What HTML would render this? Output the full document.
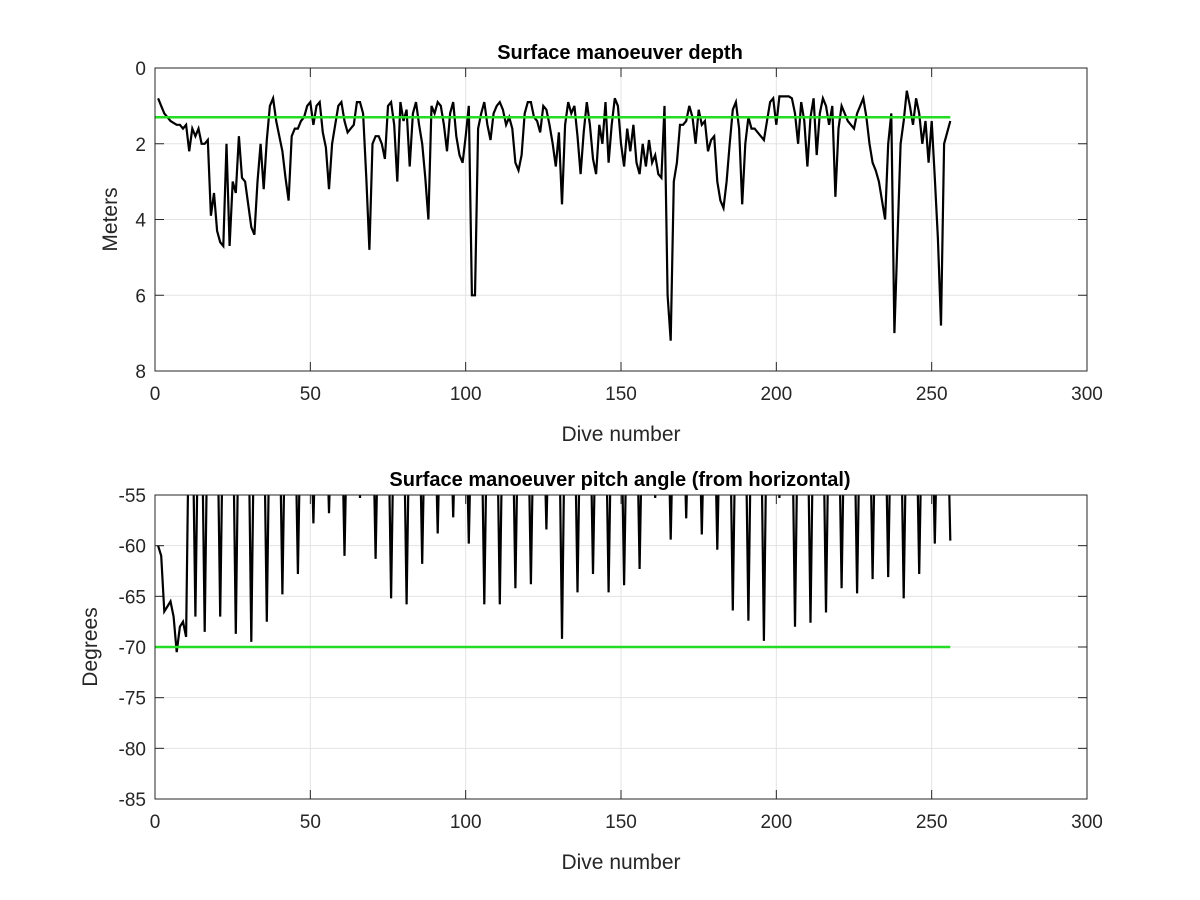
<!DOCTYPE html>
<html><head><meta charset="utf-8"><style>
body{margin:0;background:#fff;}
svg{display:block;font-family:"Liberation Sans",Arial,sans-serif;}
</style></head><body>
<svg id="fig" width="1200" height="900" viewBox="0 0 1200 900">
<rect width="1200" height="900" fill="#fff"/>
<g id="top"></g>
<g id="bot"></g>
</svg>
<script>
const depthVals=[0.8,1.0,1.2,1.3,1.4,1.45,1.5,1.5,1.6,1.5,
2.2,1.6,1.8,1.6,2.0,2.0,1.9,3.9,3.3,4.3,
4.6,4.7,2.0,4.7,3.0,3.3,1.8,2.9,3.0,3.6,
4.2,4.4,3.0,2.0,3.2,1.9,1.0,0.8,1.4,1.8,
2.2,2.9,3.5,1.8,1.6,1.6,1.4,1.3,1.0,0.9,
1.5,1.0,0.9,1.7,2.1,3.2,2.0,1.5,1.0,0.9,
1.4,1.7,1.6,1.5,0.9,0.9,1.2,2.9,4.8,2.0,
1.8,1.8,2.0,2.4,1.0,0.9,1.5,3.0,0.9,1.4,
1.1,2.6,1.2,0.9,1.5,2.0,2.9,4.0,1.0,1.2,
0.9,1.0,1.5,2.2,1.2,0.9,1.8,2.3,2.5,1.8,
1.0,6.0,6.0,1.6,1.2,0.9,1.5,1.9,1.2,1.0,
0.9,1.1,1.5,1.3,1.6,2.5,2.7,2.3,1.2,0.9,
0.9,1.3,1.4,1.7,1.0,1.1,1.5,2.0,2.6,1.7,
3.6,1.5,0.9,1.2,1.0,1.8,2.8,1.7,0.9,1.5,
2.4,2.8,1.5,2.0,0.9,2.5,1.5,0.8,1.0,2.0,
2.6,1.6,2.2,1.5,2.5,2.8,2.0,2.6,1.9,2.5,
2.3,2.8,2.9,1.0,6.0,7.2,3.0,2.5,1.5,1.5,
1.4,1.0,1.3,2.0,1.1,1.5,1.4,2.2,1.9,1.8,
3.0,3.5,3.7,3.0,2.0,1.1,0.9,1.6,3.6,2.0,
1.3,1.6,1.6,1.7,1.8,1.9,1.4,0.9,0.8,1.5,
0.75,0.75,0.75,0.75,0.8,1.2,2.0,0.9,1.4,2.6,
1.3,0.8,2.3,1.2,0.8,1.0,1.5,1.0,3.4,1.6,
1.0,1.2,1.4,1.5,1.6,1.2,1.0,0.8,1.3,2.0,
2.5,2.7,3.0,3.5,4.0,2.0,1.2,7.0,4.5,2.0,
1.4,0.6,1.0,1.5,0.8,1.2,2.0,1.4,2.5,1.4,
2.9,4.5,6.8,2.0,1.7,1.4];
const pitchVals=[-60,-61,-66.5,-66,-65.5,-67,-70.5,-68,-67.5,-69,
-45,-45,-67,-45,-45,
-68.5,-45,-45,-45,-45, -67,-45,-45,-45,-45, -68.7,-45,-45,-45,-45, -69.5,-45,-45,-45,-45,
-67.5,-45,-45,-45,-45, -64.8,-45,-45,-45,-45, -62.8,-45,-45,-45,-45, -57.8,-45,-45,-45,-45,
-56.8,-45,-45,-45,-45, -61,-45,-45,-45,-45, -55.3,-45,-45,-45,-45, -61.3,-45,-45,-45,-45,
-65.2,-45,-45,-45,-45, -65.8,-45,-45,-45,-45, -61.8,-45,-45,-45,-45, -58.8,-45,-45,-45,-45,
-57.2,-45,-45,-45,-45, -59.8,-45,-45,-45,-45, -65.8,-45,-45,-45,-45, -65.8,-45,-45,-45,-45,
-64.2,-45,-45,-45,-45, -63.8,-45,-45,-45,-45, -58.4,-45,-45,-45,-45, -69.2,-45,-45,-45,-45,
-64.6,-45,-45,-45,-45, -62.8,-45,-45,-45,-45, -64.6,-45,-45,-45,-45, -63.9,-45,-45,-45,-45,
-62.3,-45,-45,-45,-45, -55.3,-45,-45,-45,-45, -59.4,-45,-45,-45,-45, -57.3,-45,-45,-45,-45,
-58.9,-45,-45,-45,-45, -60.4,-45,-45,-45,-45, -66.4,-45,-45,-45,-45, -67.4,-45,-45,-45,-45,
-69.4,-45,-45,-45,-45, -55.3,-45,-45,-45,-45, -68,-45,-45,-45,-45, -67.6,-45,-45,-45,-45,
-66.6,-45,-45,-45,-45, -64.2,-45,-45,-45,-45, -64.7,-45,-45,-45,-45, -63.3,-45,-45,-45,-45,
-63.1,-45,-45,-45,-45, -65.2,-45,-45,-45,-45, -62.8,-45,-45,-45,-45, -59.8,-45,-45,-45,-45,
-59.5];
const xTicks=[0,50,100,150,200,250,300];
const depthTicks=[0,2,4,6,8];
const pitchTicks=[-55,-60,-65,-70,-75,-80,-85];
const depthTarget=[1.3];
const pitchTarget=[-70];
const NS="http://www.w3.org/2000/svg";
function mk(tag,attrs,parent){const e=document.createElementNS(NS,tag);for(const k in attrs)e.setAttribute(k,attrs[k]);parent.appendChild(e);return e;}
function chart(g,cfg){
  const L=155,R=1087,T=cfg.top,B=cfg.bottom;
  const sx=v=>L+(v-0)/(300-0)*(R-L);
  const sy=v=>T+(v-cfg.y0)/(cfg.y1-cfg.y0)*(B-T);
  const defs=mk('clipPath',{id:cfg.id+'clip'},g);mk('rect',{x:L,y:T,width:R-L,height:B-T},defs);
  xTicks.forEach(t=>{const l=mk('line',{x1:sx(t),x2:sx(t),y1:T,y2:B,stroke:'#e3e3e3','stroke-width':1},g);
    
    
    const tk=mk('line',{x1:sx(t),x2:sx(t),y1:B,y2:B-9,stroke:'#262626'},g);
    
    
    const tk2=mk('line',{x1:sx(t),x2:sx(t),y1:T,y2:T+9,stroke:'#262626'},g);
    
    
    const tx=mk('text',{x:sx(t),y:B+29,'text-anchor':'middle','font-size':19,fill:'#262626'},g);tx.textContent=t;
    
    });
  cfg.ticks.forEach(t=>{const l=mk('line',{x1:L,x2:R,y1:sy(t),y2:sy(t),stroke:'#e3e3e3'},g);
    
    
    const tk=mk('line',{x1:L,x2:L+9,y1:sy(t),y2:sy(t),stroke:'#262626'},g);
    
    
    const tk2=mk('line',{x1:R,x2:R-9,y1:sy(t),y2:sy(t),stroke:'#262626'},g);
    
    
    const tx=mk('text',{x:L-9,y:sy(t)+7,'text-anchor':'end','font-size':19,fill:'#262626'},g);tx.textContent=t;
    
    });
  const pts=cfg.vals.map((v,i)=>sx(i+1).toFixed(1)+','+sy(v).toFixed(1)).join(' ');
  const pl=mk('polyline',{points:pts,fill:'none',stroke:'#000','stroke-width':2.2,'clip-path':'url(#'+cfg.id+'clip)'},g);
  
  
  cfg.target.forEach(v=>{const gl=mk('line',{x1:sx(0),x2:sx(cfg.vals.length),y1:sy(v),y2:sy(v),stroke:'#22dd22','stroke-width':2.5},g);
    
    });
  const box=mk('rect',{x:L,y:T,width:R-L,height:B-T,fill:'none',stroke:'#262626','stroke-width':1},g);
  
  
  const ti=mk('text',{x:(L+R)/2-1,y:T-9,'text-anchor':'middle','font-size':20,'font-weight':'bold',fill:'#000'},g);ti.textContent=cfg.title;
  
  
  const xl=mk('text',{x:(L+R)/2,y:B+70,'text-anchor':'middle','font-size':21,fill:'#262626'},g);xl.textContent='Dive number';
  
  
  const yl=mk('text',{x:0,y:0,'text-anchor':'middle','font-size':21,fill:'#262626',transform:'translate('+cfg.ylx+','+((T+B)/2)+') rotate(-90)'},g);yl.textContent=cfg.ylabel;
  
  
}
chart(document.getElementById('top'),{id:'depth',top:68,bottom:371,y0:0,y1:8,ticks:depthTicks,vals:depthVals,target:depthTarget,title:'Surface manoeuver depth',ylabel:'Meters',ylx:117});
chart(document.getElementById('bot'),{id:'pitch',top:495,bottom:799,y0:-55,y1:-85,ticks:pitchTicks,vals:pitchVals,target:pitchTarget,title:'Surface manoeuver pitch angle (from horizontal)',ylabel:'Degrees',ylx:97});
</script>
</body></html>
